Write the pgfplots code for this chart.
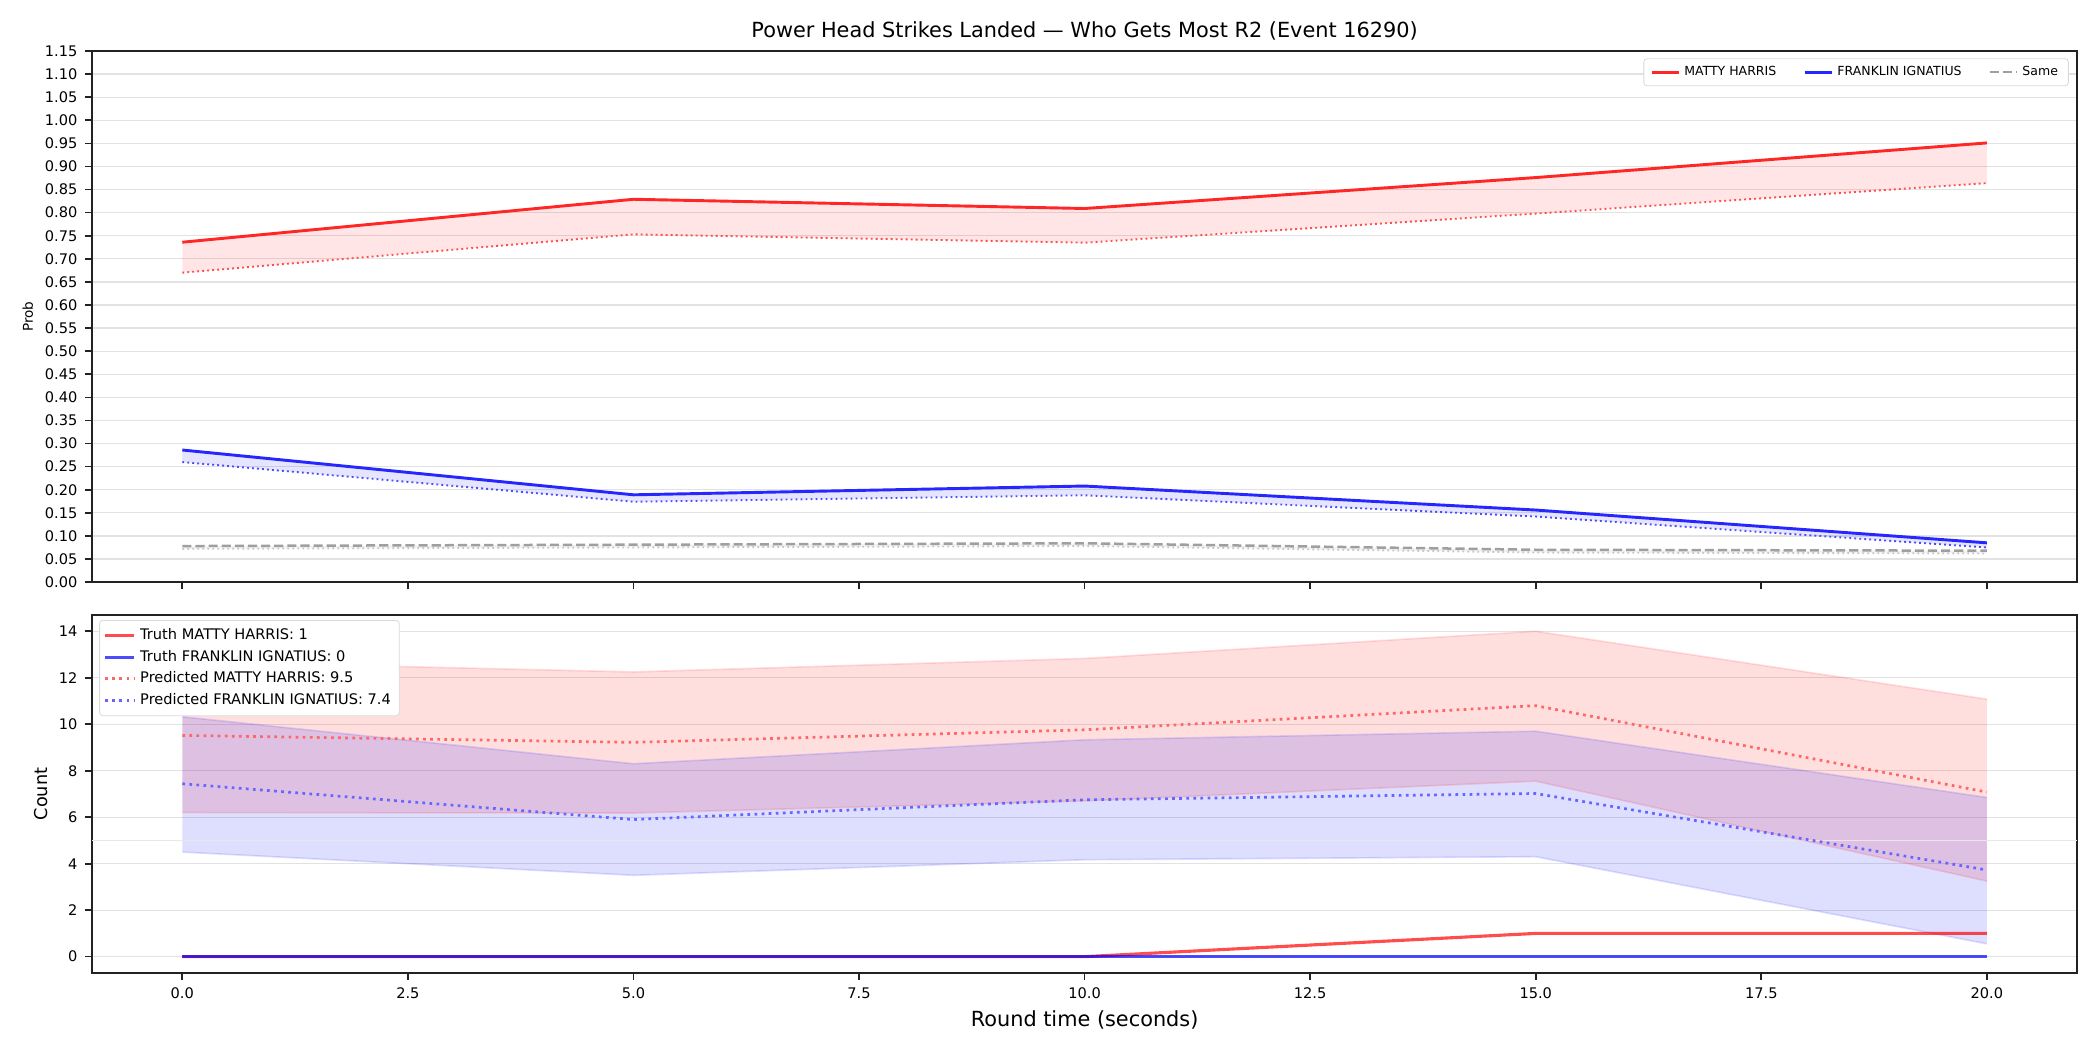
\documentclass[border=0pt]{standalone}
\usepackage{pgfplots}
\pgfplotsset{compat=1.18}
\usepgfplotslibrary{fillbetween}
\usepackage{fontspec}
\setmainfont{DejaVu Sans}

\definecolor{lred}{RGB}{255,38,38}
\definecolor{lblue}{RGB}{38,38,255}
\definecolor{gridc}{RGB}{226,226,226}
\definecolor{axc}{RGB}{34,34,34}

\pgfplotsset{
  base/.style={
    scale only axis,
    anchor=south west,
    xmin=-1, xmax=21,
    xtick={0,2.5,5,7.5,10,12.5,15,17.5,20},
    tick pos=left, tick align=outside,
    major tick length=3.5pt,
    every tick/.style={axc, line width=0.8pt},
    axis line style={axc, line width=0.9pt},
    ymajorgrids, grid style={gridc, line width=0.6pt},
    /pgf/number format/assume math mode=true,
    ticklabel style={font=\fontsize{7}{8}\selectfont},
    legend cell align=left,
  },
}

\begin{document}
\begin{tikzpicture}

\node[font=\fontsize{10}{12}\selectfont] at (520.6pt,489pt)
  {Power Head Strikes Landed — Who Gets Most R2 (Event 16290)};

% ---------- probability panel ----------
\begin{axis}[base,
  at={(44.2pt,224.6pt)}, width=952.8pt, height=254.9pt,
  ymin=0, ymax=1.15,
  ytick={0,0.05,0.1,0.15,0.2,0.25,0.3,0.35,0.4,0.45,0.5,0.55,0.6,0.65,0.7,0.75,0.8,0.85,0.9,0.95,1.0,1.05,1.1,1.15},
  yticklabel style={/pgf/number format/fixed, /pgf/number format/fixed zerofill, /pgf/number format/precision=2},
  xticklabels={},
  ylabel={Prob},
  ylabel style={at={(rel axis cs:0,0.5)}, anchor=center, yshift=30.8pt, font=\fontsize{6.5}{8}\selectfont},
  legend columns=3,
  legend style={at={(rel axis cs:1,1)}, anchor=north east, xshift=-4pt, yshift=-3.5pt,
    font=\fontsize{6}{7}\selectfont, draw=gray!30, rounded corners=1.5pt,
    inner xsep=3pt, inner ysep=1.5pt,
    /tikz/every even column/.append style={column sep=11pt}},
  legend image code/.code={\draw[#1] (0pt,0pt) -- (13pt,0pt);},
]
\addplot[name path=rs, lred, line width=1.4pt] coordinates {(0,0.736) (5,0.829) (10,0.809) (15,0.876) (20,0.951)};
\addlegendentry{MATTY HARRIS}
\addplot[name path=bs, lblue, line width=1.4pt] coordinates {(0,0.286) (5,0.189) (10,0.208) (15,0.156) (20,0.085)};
\addlegendentry{FRANKLIN IGNATIUS}
\addplot[name path=gs, gray!75, line width=1.2pt, dash pattern=on 4.4pt off 1.9pt] coordinates {(0,0.078) (5,0.081) (10,0.084) (15,0.070) (20,0.068)};
\addlegendentry{Same}

\addplot[name path=rd, red!70, line width=0.9pt, dash pattern=on 0.9pt off 1.5pt, forget plot] coordinates {(0,0.670) (5,0.753) (10,0.735) (15,0.798) (20,0.864)};
\addplot[name path=bd, blue!70, line width=0.9pt, dash pattern=on 0.9pt off 1.5pt, forget plot] coordinates {(0,0.260) (5,0.174) (10,0.188) (15,0.142) (20,0.075)};
\addplot[name path=gd, gray!45, line width=0.9pt, dash pattern=on 0.9pt off 1.5pt, forget plot] coordinates {(0,0.072) (5,0.075) (10,0.078) (15,0.064) (20,0.062)};

\addplot[red, fill opacity=0.1, forget plot] fill between[of=rs and rd];
\addplot[blue, fill opacity=0.1, forget plot] fill between[of=bs and bd];
\addplot[gray, fill opacity=0.1, forget plot] fill between[of=gs and gd];
\end{axis}

% ---------- count panel ----------
\begin{axis}[base,
  at={(44.2pt,37pt)}, width=952.8pt, height=171.8pt,
  ymin=-0.7, ymax=14.7,
  ytick={0,2,4,6,8,10,12,14},
  xticklabel style={/pgf/number format/fixed, /pgf/number format/fixed zerofill, /pgf/number format/precision=1},
  xlabel={Round time (seconds)},
  xlabel style={at={(rel axis cs:0.5,0)}, anchor=center, yshift=-22.6pt, font=\fontsize{10}{12}\selectfont},
  ylabel={Count},
  ylabel style={at={(rel axis cs:0,0.5)}, anchor=center, yshift=24.3pt, font=\fontsize{8.5}{10}\selectfont},
  legend style={at={(rel axis cs:0,1)}, anchor=north west, xshift=3.4pt, yshift=-2.4pt,
    font=\fontsize{7}{8.5}\selectfont, draw=gray!30, rounded corners=1.5pt,
    inner xsep=2pt, inner ysep=2pt, row sep=-0.5pt},
  legend image code/.code={\draw[#1] (0pt,0pt) -- (14pt,0pt);},
]
% faint reference line
\addplot[gridc!80, line width=0.6pt, forget plot] coordinates {(-1,5) (21,5)};

% prediction bands
\addplot[name path=ru, red, draw opacity=0.12, line width=0.8pt, forget plot] coordinates {(0,12.7) (5,12.25) (10,12.83) (15,14.0) (20,11.08)};
\addplot[name path=rl, red, draw opacity=0.12, line width=0.8pt, forget plot] coordinates {(0,6.2) (5,6.18) (10,6.7) (15,7.55) (20,3.25)};
\addplot[red, fill opacity=0.13, forget plot] fill between[of=ru and rl];
\addplot[name path=bu, blue, draw opacity=0.12, line width=0.8pt, forget plot] coordinates {(0,10.32) (5,8.3) (10,9.33) (15,9.7) (20,6.85)};
\addplot[name path=bl, blue, draw opacity=0.12, line width=0.8pt, forget plot] coordinates {(0,4.5) (5,3.5) (10,4.17) (15,4.3) (20,0.55)};
\addplot[blue, fill opacity=0.13, forget plot] fill between[of=bu and bl];

% truth and predicted means
\addplot[red, opacity=0.7, line width=1.5pt] coordinates {(0,0) (5,0) (10,0) (15,1) (20,1)};
\addlegendentry{Truth MATTY HARRIS: 1}
\addplot[blue, opacity=0.7, line width=1.5pt] coordinates {(0,0) (5,0) (10,0) (15,0) (20,0)};
\addlegendentry{Truth FRANKLIN IGNATIUS: 0}
\addplot[red!60, line width=1.3pt, dash pattern=on 1.3pt off 2.1pt] coordinates {(0,9.52) (5,9.22) (10,9.76) (15,10.8) (20,7.08)};
\addlegendentry{Predicted MATTY HARRIS: 9.5}
\addplot[blue!60, line width=1.3pt, dash pattern=on 1.3pt off 2.1pt] coordinates {(0,7.44) (5,5.9) (10,6.75) (15,7.02) (20,3.73)};
\addlegendentry{Predicted FRANKLIN IGNATIUS: 7.4}
\end{axis}

\path (0,0) rectangle (1008pt,504pt);
\end{tikzpicture}
\end{document}
